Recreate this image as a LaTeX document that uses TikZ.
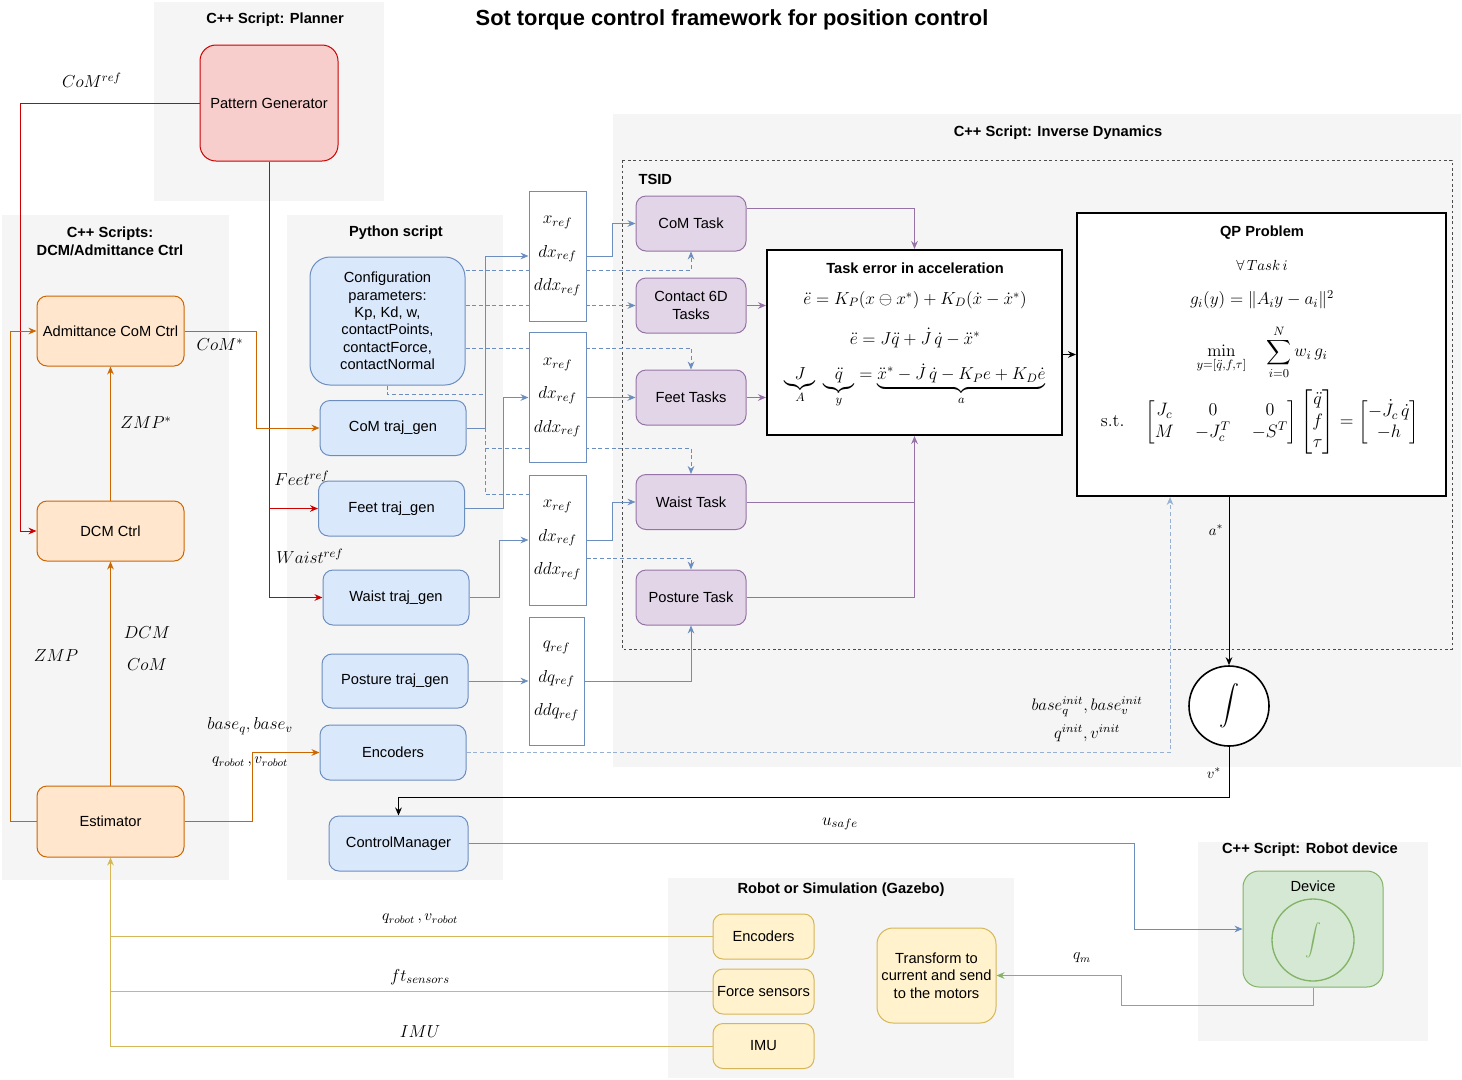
\RequirePackage{fix-cm}
\documentclass[tikz,border=0pt]{standalone}
\usepackage{amsmath}
\usepackage{amssymb}
\usepackage[no-math]{fontspec}
\setmainfont{Liberation Sans}
\usepackage{tikz}
\usetikzlibrary{arrows.meta}
\usetikzlibrary{calc}
\usetikzlibrary{shapes}
\definecolor{grpgray}{HTML}{F5F5F5}
\definecolor{pgfill}{HTML}{F8CECC}
\definecolor{pgline}{HTML}{CC0000}
\definecolor{orfill}{HTML}{FFE6CC}
\definecolor{orline}{HTML}{CC6600}
\definecolor{blfill}{HTML}{DAE8FC}
\definecolor{blline}{HTML}{6C8EBF}
\definecolor{pufill}{HTML}{E1D5E7}
\definecolor{puline}{HTML}{9673A6}
\definecolor{yefill}{HTML}{FFF2CC}
\definecolor{yeline}{HTML}{D6B656}
\definecolor{gefill}{HTML}{D5E8D4}
\definecolor{geline}{HTML}{82B366}
\pgfdeclarelayer{groups}
\pgfdeclarelayer{wires}
\pgfsetlayers{groups,wires,main}
\tikzset{ box/.style = {rectangle, rounded corners=7.5pt, draw, line width=0.75pt, align=center, font=\fontsize{11}{13}\selectfont, inner sep=2pt} }
\tikzset{ pgbox/.style = {box, fill=pgfill, draw=pgline, minimum width=103.5pt, minimum height=87pt, rounded corners=12pt} }
\tikzset{ ctrl/.style = {box, fill=orfill, draw=orline, minimum width=110.25pt} }
\tikzset{ pybox/.style = {box, fill=blfill, draw=blline, minimum width=109.5pt, minimum height=41.25pt} }
\tikzset{ refbox/.style = {rectangle, draw=blline, fill=white, line width=0.75pt, minimum width=42.75pt, minimum height=97.5pt, align=center, font=\fontsize{13}{15}\selectfont} }
\tikzset{ task/.style = {box, fill=pufill, draw=puline, minimum width=82.5pt, minimum height=41.25pt} }
\tikzset{ robot/.style = {box, fill=yefill, draw=yeline, minimum width=75.75pt, minimum height=33.75pt} }
\tikzset{ bigbox/.style = {rectangle, draw, fill=white, line width=1.5pt} }
\tikzset{ group/.style = {fill=grpgray} }
\tikzset{ tsidline/.style = {draw=black!70, line width=0.75pt, dash pattern=on 2pt off 2pt} }
\tikzset{ grptitle/.style = {font=\fontsize{11}{13.5}\selectfont\bfseries, align=center, inner sep=1pt} }
\tikzset{ mlabel/.style = {font=\fontsize{13}{15}\selectfont, inner sep=1pt} }
\tikzset{ wire/.style = {line width=0.75pt, -{Stealth[length=6pt,width=5pt]}} }
\tikzset{ redwire/.style = {wire, draw=pgline} }
\tikzset{ orwire/.style = {wire, draw=orline} }
\tikzset{ yewire/.style = {wire, draw=yeline} }
\tikzset{ bluewire/.style = {wire, draw=blline} }
\tikzset{ bluedash/.style = {wire, draw=blline, dash pattern=on 3pt off 2pt} }
\tikzset{ puwire/.style = {wire, draw=puline} }
\tikzset{ blkwire/.style = {wire, draw=black} }
\tikzset{ gewire/.style = {wire, draw=geline} }

\begin{document}
\begin{tikzpicture}[x=0.75pt,y=-0.75pt]
\useasboundingbox (0,0) rectangle (1462,1079);

% group backgrounds
\begin{pgfonlayer}{groups}
\fill[group] (154,2) rectangle (384,201);
\fill[group] (2,215) rectangle (229,880);
\fill[group] (287,215) rectangle (503,880);
\fill[group] (613,114) rectangle (1461,767);
\draw[tsidline] (622,160) rectangle (1452,649);
\fill[group] (668,878) rectangle (1014,1078);
\fill[group] (1198,842) rectangle (1428,1041);
\end{pgfonlayer}

% titles
\node[font=\fontsize{16.4}{20}\selectfont\bfseries] (title) at (732,20) {Sot torque control framework for position control};
\node[grptitle] (plannerT) at (275,20) {C++ Script: Planner};
\node[grptitle] (dcmT) at (110,241) {C++ Scripts:\\DCM/Admittance Ctrl};
\node[grptitle] (pyT) at (396,233) {Python script};
\node[grptitle] (idT) at (1058,133) {C++ Script: Inverse Dynamics};
\node[grptitle, anchor=west] (tsidT) at (637,179) {TSID};
\node[grptitle] (simT) at (841,890) {Robot or Simulation (Gazebo)};
\node[grptitle] (devT) at (1310,850) {C++ Script: Robot device};

% planner and controllers
\node[pgbox] (pg) at (269,103) {Pattern Generator};
\node[ctrl, minimum height=52.5pt] (adm) at (110.5,331) {Admittance CoM Ctrl};
\node[ctrl, minimum height=45pt] (dcm) at (110.5,531) {DCM Ctrl};
\node[ctrl, minimum height=53.25pt] (est) at (110.5,821.5) {Estimator};

% python script
\node[pybox, minimum width=116.25pt, minimum height=96pt, rounded corners=15pt] (cfg) at (387.5,321) {Configuration\\parameters:\\Kp, Kd, w,\\contactPoints,\\contactForce,\\contactNormal};
\node[pybox] (comtg) at (393,428) {CoM traj\_gen};
\node[pybox] (feettg) at (391.5,508.5) {Feet traj\_gen};
\node[pybox] (waisttg) at (396,597.5) {Waist traj\_gen};
\node[pybox, minimum height=40.5pt] (posttg) at (395,681) {Posture traj\_gen};
\node[pybox] (enc) at (393,752.5) {Encoders};
\node[pybox, minimum width=104.25pt] (cm) at (398.5,843.5) {ControlManager};

% reference boxes
\node[refbox] (r1) at (557.5,256) {$x_{ref}$\\[10pt]$dx_{ref}$\\[10pt]$ddx_{ref}$};
\node[refbox] (r2) at (557.5,397.5) {$x_{ref}$\\[10pt]$dx_{ref}$\\[10pt]$ddx_{ref}$};
\node[refbox] (r3) at (557.5,540) {$x_{ref}$\\[10pt]$dx_{ref}$\\[10pt]$ddx_{ref}$};
\node[refbox, minimum width=41.25pt, minimum height=96pt] (r4) at (556.5,681) {$q_{ref}$\\[10pt]$dq_{ref}$\\[10pt]$ddq_{ref}$};

% tasks
\node[task] (comtask) at (691,223.5) {CoM Task};
\node[task] (c6d) at (691,305.5) {Contact 6D\\Tasks};
\node[task] (feettask) at (691,397.5) {Feet Tasks};
\node[task] (waisttask) at (691,502) {Waist Task};
\node[task] (posttask) at (691,597.5) {Posture Task};

% task error
\node[bigbox, minimum width=221.25pt, minimum height=138.75pt] (err) at (914.5,342.5) {};
\node[grptitle] (errT) at (915,268) {Task error in acceleration};
\node[mlabel] (errA) at (915,300) {$\ddot e = K_P(x \ominus x^{*}) + K_D(\dot x - \dot x^{*})$};
\node[mlabel] (errB) at (915,338) {$\ddot e = J\ddot q + \dot J\,\dot q - \ddot x^{*}$};
\node[mlabel] (errC) at (915,386) {$\underbrace{\;J\;}_{A}\;\underbrace{\;\ddot q\;}_{y} = \underbrace{\ddot x^{*} - \dot J\,\dot q - K_P e + K_D \dot e}_{a}$};

% QP problem
\node[bigbox, minimum width=276.75pt, minimum height=212.25pt] (qp) at (1261.5,354.5) {};
\node[grptitle] (qpT) at (1262,233) {QP Problem};
\node[mlabel, font=\fontsize{11}{13}\selectfont] (qpA) at (1262,265) {$\forall\,Task\,i$};
\node[mlabel] (qpB) at (1262,300) {$g_i(y) = \|A_i y - a_i\|^{2}$};
\node[mlabel] (qpC) at (1262,352) {$\displaystyle\min_{y=[\ddot q,f,\tau]}\quad\sum_{i=0}^{N} w_i\, g_i$};
\node[mlabel, font=\fontsize{13.5}{16}\selectfont] (qpD) at (1260,422) {\setlength{\arraycolsep}{8pt}$\mathrm{s.t.}\quad \begin{bmatrix} J_c & 0 & 0\\ M & -J_c^{T} & -S^{T}\end{bmatrix} \begin{bmatrix}\ddot q\\ f\\ \tau\end{bmatrix} = \begin{bmatrix} -\dot J_c\,\dot q\\ -h\end{bmatrix}$};

% integrator
\node[circle, draw, fill=white, line width=1.2pt, minimum size=60pt, font=\fontsize{15}{18}\selectfont] (integ) at (1229,706) {$\displaystyle\int$};

% robot / simulation
\node[robot] (renc) at (763.5,936.5) {Encoders};
\node[robot] (rforce) at (763.5,991.5) {Force sensors};
\node[robot] (rimu) at (763.5,1046) {IMU};
\node[robot, minimum width=89.25pt, minimum height=71.25pt, rounded corners=12pt] (transf) at (936.5,975.5) {Transform to\\current and send\\to the motors};

% device
\node[box, fill=gefill, draw=geline, minimum width=105pt, minimum height=87pt, rounded corners=12pt] (dev) at (1313,929) {};
\node[font=\fontsize{11}{13}\selectfont] (devL) at (1313,886) {Device};
\node[circle, draw=geline, line width=1pt, minimum size=61.5pt, text=geline, font=\fontsize{12}{14}\selectfont] (devint) at (1313,940) {$\displaystyle\int$};

% labels
\node[mlabel] (lcomref) at (92,80) {$CoM^{ref}$};
\node[mlabel] (lcomstar) at (220,345) {$CoM^{*}$};
\node[mlabel] (lzmpstar) at (146,423) {$ZMP^{*}$};
\node[mlabel] (ldcm) at (147,633) {$DCM$};
\node[mlabel] (lcom) at (147,665) {$CoM$};
\node[mlabel] (lzmp) at (56,656) {$ZMP$};
\node[mlabel] (lbase) at (250,726) {$base_q, base_v$};
\node[mlabel, font=\fontsize{11.5}{13}\selectfont] (lqrob) at (250,762) {$q_{robot}\,, v_{robot}$};
\node[mlabel] (lfeet) at (302,478) {$Feet^{ref}$};
\node[mlabel] (lwaist) at (310,556) {$Waist^{ref}$};
\node[mlabel, font=\fontsize{11}{13}\selectfont] (lastar) at (1216,530) {$a^{*}$};
\node[mlabel, font=\fontsize{11}{13}\selectfont] (lvstar) at (1214,773) {$v^{*}$};
\node[mlabel, font=\fontsize{12.5}{14}\selectfont] (linit) at (1087,707) {$base_q^{init}, base_v^{init}$};
\node[mlabel, font=\fontsize{12.5}{14}\selectfont] (lqinit) at (1087,733) {$q^{init}, v^{init}$};
\node[mlabel] (lusafe) at (840,824) {$u_{safe}$};
\node[mlabel, font=\fontsize{11.5}{13}\selectfont] (lqrob2) at (420,919) {$q_{robot}\,, v_{robot}$};
\node[mlabel] (lft) at (420,977) {$ft_{sensors}$};
\node[mlabel] (limu) at (420,1032) {$IMU$};
\node[mlabel, font=\fontsize{12}{14}\selectfont] (lqm) at (1082,958) {$q_m$};

% connectors
\begin{pgfonlayer}{wires}
\draw[redwire] (pg.west) -| (20,531) -- (dcm.west);
\draw[redwire] (pg.south) |- (waisttg.west);
\draw[redwire] (pg.south |- feettg.west) -- (feettg.west);

\draw[orwire] (adm.east) -| (256,428) -- (comtg.west);
\draw[orwire] (dcm.north) -- (adm.south);
\draw[orwire] (est.north) -- (dcm.south);
\draw[orwire] (est.west) -| (10,331) -- (adm.west);
\draw[orwire] (est.east) -| (252,752.5) -- (enc.west);

\draw[yewire] (renc.west) -| (est.south);
\draw[yeline, line width=0.75pt] (rforce.west) -- (rforce.west -| est.south);
\draw[yeline, line width=0.75pt] (rimu.west) -- (rimu.west -| est.south) -- (renc.west -| est.south);

\draw[bluewire] (comtg.east) -| (485,256) -- (r1.west);
\draw[bluewire] (feettg.east) -| (503,397.5) -- (r2.west);
\draw[bluewire] (waisttg.east) -| (499,540) -- (r3.west);
\draw[bluewire] (posttg.east) -- (r4.west);
\draw[bluewire] (r1.east) -| (612,223.5) -- (comtask.west);
\draw[bluewire] (r2.east) -- (feettask.west);
\draw[bluewire] (r3.east) -| (612,502) -- (waisttask.west);
\draw[bluewire] (r4.east) -| (posttask.south);
\draw[bluewire] (cm.east) -| (1134,929) -- (dev.west);

\coordinate (jn) at (485,448);
\draw[bluedash] ([yshift=38.25pt]cfg.east) -| (comtask.south);
\draw[bluedash] (cfg.east |- c6d.west) -- (c6d.west);
\draw[bluedash] ([yshift=-20.25pt]cfg.east) -| (feettask.north);
\draw[bluedash, -] (cfg.south) -- ++(0,9) -| (485,494) -- ([yshift=34.5pt]r3.west);
\draw[bluedash] (jn) -| (waisttask.north);
\draw[bluedash] ([yshift=-13.5pt]r3.east) -| (posttask.north);
\draw[bluedash, draw=blline!70] (enc.east) -| ([xshift=-68.6pt]qp.south);

\draw[puwire] ([yshift=10.9pt]comtask.east) -| (err.north);
\draw[puwire] (c6d.east) -- (err.west |- c6d.east);
\draw[puwire] (feettask.east) -- (err.west |- feettask.east);
\draw[puwire] (waisttask.east) -| (err.south);
\draw[puline, line width=0.75pt] (posttask.east) -| (err.south |- waisttask.east);

\draw[blkwire] (err.east |- qp.west) -- (qp.west);
\draw[blkwire] (integ.north |- qp.south) -- (integ.north);
\draw[blkwire] (integ.south) -- ++(0,51) -| (cm.north);

\draw[gewire] (dev.south) -- ++(0,18) -| (1121,975.5) -- (transf.east);
\end{pgfonlayer}
\end{tikzpicture}
\end{document}
